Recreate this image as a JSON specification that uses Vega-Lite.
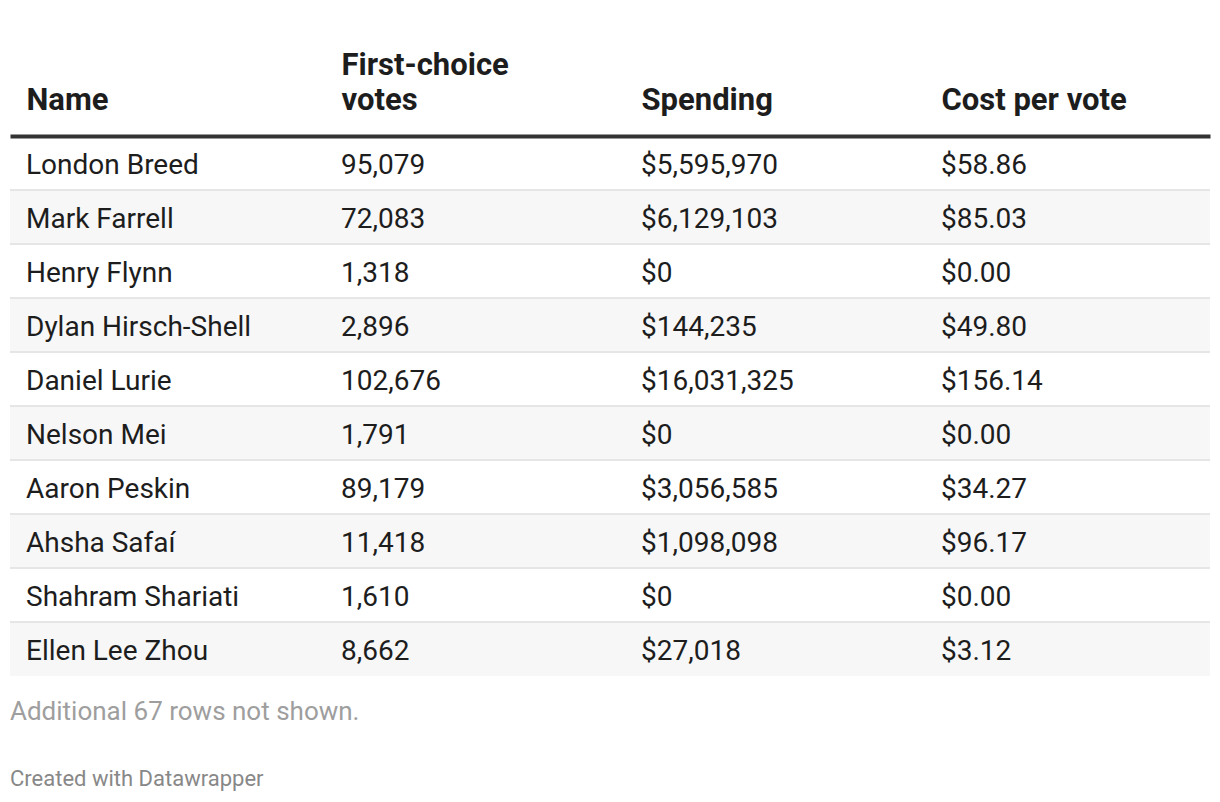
{
  "$schema": "https://vega.github.io/schema/vega-lite/v6.json",
  "width": 1200,
  "height": 540,
  "autosize": {"type": "none"},
  "padding": {"top": 136, "left": 10, "right": 10, "bottom": 126},
  "background": "white",
  "config": {"view": {"stroke": null}, "font": "Roboto"},
  "title": {
    "text": "Additional 67 rows not shown.",
    "subtitle": "Created with Datawrapper",
    "orient": "bottom",
    "anchor": "start",
    "frame": "group",
    "font": "Roboto",
    "fontSize": 26,
    "fontWeight": "normal",
    "color": "#9e9e9e",
    "subtitleFont": "Roboto",
    "subtitleFontSize": 22,
    "subtitleColor": "#888888",
    "subtitlePadding": 44,
    "offset": 23
  },
  "data": {
    "values": [
      {"Name": "London Breed", "votes": 95079, "spending": 5595970, "cost": 58.86},
      {"Name": "Mark Farrell", "votes": 72083, "spending": 6129103, "cost": 85.03},
      {"Name": "Henry Flynn", "votes": 1318, "spending": 0, "cost": 0},
      {"Name": "Dylan Hirsch-Shell", "votes": 2896, "spending": 144235, "cost": 49.80},
      {"Name": "Daniel Lurie", "votes": 102676, "spending": 16031325, "cost": 156.14},
      {"Name": "Nelson Mei", "votes": 1791, "spending": 0, "cost": 0},
      {"Name": "Aaron Peskin", "votes": 89179, "spending": 3056585, "cost": 34.27},
      {"Name": "Ahsha Safaí", "votes": 11418, "spending": 1098098, "cost": 96.17},
      {"Name": "Shahram Shariati", "votes": 1610, "spending": 0, "cost": 0},
      {"Name": "Ellen Lee Zhou", "votes": 8662, "spending": 27018, "cost": 3.12}
    ]
  },
  "transform": [
    {"window": [{"op": "row_number", "as": "i"}]}
  ],
  "layer": [
    {
      "mark": {"type": "rect"},
      "encoding": {
        "x": {
          "datum": 0,
          "type": "quantitative",
          "scale": {"domain": [0, 1200], "nice": false, "zero": false},
          "axis": {
            "orient": "top",
            "title": null,
            "values": [16, 331, 631, 931],
            "labelExpr": "datum.value == 16 ? ['', 'Name'] : datum.value == 331 ? ['First-choice', 'votes'] : datum.value == 631 ? ['', 'Spending'] : ['', 'Cost per vote']",
            "labelAlign": "left",
            "labelBaseline": "alphabetic",
            "labelFont": "Roboto",
            "labelFontWeight": "bold",
            "labelFontSize": 31,
            "labelColor": "#1d1d1d",
            "labelLineHeight": 35,
            "labelPadding": 62,
            "labelLimit": 500,
            "labelOverlap": false,
            "labelFlush": false,
            "labelBound": false,
            "ticks": false,
            "tickSize": 0,
            "grid": false,
            "domain": true,
            "domainColor": "#333333",
            "domainWidth": 4,
            "zindex": 1
          }
        },
        "x2": {"datum": 1200},
        "y": {"field": "Name", "type": "nominal", "sort": null, "axis": null,
              "scale": {"paddingInner": 0, "paddingOuter": 0}},
        "fill": {
          "condition": {"test": "datum.i % 2 == 0", "value": "#f7f7f7"},
          "value": "#ffffff"
        }
      }
    },
    {
      "mark": {"type": "rule", "strokeWidth": 2},
      "encoding": {
        "x": {"datum": 0, "type": "quantitative"},
        "x2": {"datum": 1200},
        "y": {"field": "Name", "type": "nominal", "sort": null, "bandPosition": 0},
        "stroke": {
          "condition": {"test": "datum.i > 1", "value": "#e6e6e6"},
          "value": "transparent"
        }
      }
    },
    {
      "mark": {"type": "text", "align": "left", "baseline": "alphabetic", "dy": 11, "font": "Roboto", "fontSize": 28, "color": "#1d1d1d"},
      "encoding": {
        "x": {"datum": 16, "type": "quantitative"},
        "y": {"field": "Name", "type": "nominal", "sort": null},
        "text": {"field": "Name"}
      }
    },
    {
      "mark": {"type": "text", "align": "left", "baseline": "alphabetic", "dy": 11, "font": "Roboto", "fontSize": 28, "color": "#1d1d1d"},
      "encoding": {
        "x": {"datum": 331, "type": "quantitative"},
        "y": {"field": "Name", "type": "nominal", "sort": null},
        "text": {"field": "votes", "type": "quantitative", "format": ","}
      }
    },
    {
      "mark": {"type": "text", "align": "left", "baseline": "alphabetic", "dy": 11, "font": "Roboto", "fontSize": 28, "color": "#1d1d1d"},
      "encoding": {
        "x": {"datum": 631, "type": "quantitative"},
        "y": {"field": "Name", "type": "nominal", "sort": null},
        "text": {"field": "spending", "type": "quantitative", "format": "$,"}
      }
    },
    {
      "mark": {"type": "text", "align": "left", "baseline": "alphabetic", "dy": 11, "font": "Roboto", "fontSize": 28, "color": "#1d1d1d"},
      "encoding": {
        "x": {"datum": 931, "type": "quantitative"},
        "y": {"field": "Name", "type": "nominal", "sort": null},
        "text": {"field": "cost", "type": "quantitative", "format": "$,.2f"}
      }
    }
  ]
}
